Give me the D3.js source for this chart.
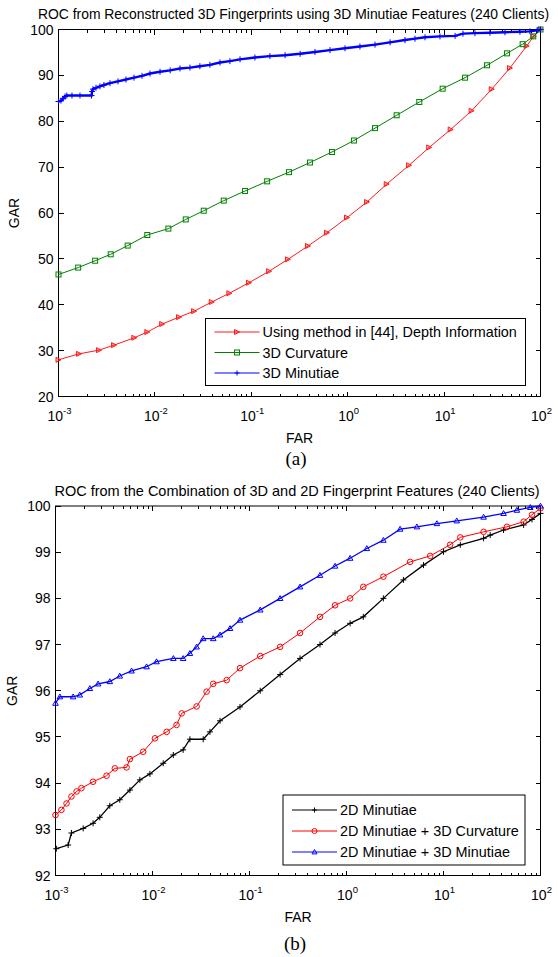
<!DOCTYPE html>
<html>
<head>
<meta charset="utf-8">
<script src="https://cdn.jsdelivr.net/npm/d3@7"></script>
<style>
  html, body { margin: 0; padding: 0; background: #fff; }
  svg { display: block; }
  text { font-family: "Liberation Sans", Arial, sans-serif; fill: #000; }
</style>
</head>
<body>
<svg id="fig" width="558" height="957"></svg>
<script>
// ---- Shared axis ticks ----
const farTicks = [1e-3, 1e-2, 1e-1, 1e0, 1e1, 1e2];
const farExponents = ["-3", "-2", "-1", "0", "1", "2"];
const garTicksA = [20, 30, 40, 50, 60, 70, 80, 90, 100];
const garTicksB = [92, 93, 94, 95, 96, 97, 98, 99, 100];

// ---- Panel (a): reconstructed 3D fingerprints, [FAR %, GAR %] ----
const depthMethod = [
  [0.001, 28.0], [0.00163, 29.3], [0.00263, 30.1], [0.00377, 31.2], [0.00611, 32.8],
  [0.00834, 34.05], [0.0119, 35.8], [0.0178, 37.3], [0.0255, 38.6], [0.0389, 40.6],
  [0.0592, 42.5], [0.0946, 44.8], [0.153, 47.3], [0.240, 49.9], [0.387, 52.8],
  [0.610, 55.7], [0.984, 59.0], [1.585, 62.4], [2.54, 66.3], [4.33, 70.4],
  [7.01, 74.3], [11.7, 78.2], [19.3, 82.3], [31.2, 87.0], [48.2, 91.6],
  [71.9, 96.4], [85.1, 98.5], [100, 100]
];
const curvature3D = [
  [0.001, 46.6], [0.0016, 48.1], [0.0024, 49.6], [0.00348, 51.0], [0.00522, 52.9],
  [0.00834, 55.2], [0.0138, 56.6], [0.0209, 58.6], [0.0321, 60.5], [0.0518, 62.7],
  [0.0861, 64.8], [0.146, 66.9], [0.246, 68.9], [0.406, 71.0], [0.687, 73.3],
  [1.16, 75.8], [1.92, 78.5], [3.22, 81.3], [5.53, 84.2], [9.66, 87.1],
  [16.5, 89.5], [27.9, 92.2], [44.9, 94.8], [65.3, 96.8], [84.1, 98.5], [100, 100]
];
const minutiae3D = [
  [0.001, 84.3], [0.00106, 84.5], [0.00111, 84.9], [0.00117, 85.4], [0.00122, 85.6],
  [0.00138, 85.6], [0.00167, 85.6], [0.0022, 85.6], [0.00223, 86.5], [0.00228, 87.0],
  [0.00245, 87.3], [0.00269, 87.6], [0.00296, 87.9], [0.00342, 88.3], [0.00414, 88.7],
  [0.00501, 89.1], [0.00607, 89.5], [0.00735, 89.9], [0.00889, 90.4], [0.0113, 90.8],
  [0.0144, 91.1], [0.0182, 91.5], [0.0231, 91.7], [0.0293, 92.0], [0.0372, 92.3],
  [0.0473, 92.8], [0.060, 93.1], [0.0764, 93.5], [0.109, 93.9], [0.156, 94.2],
  [0.224, 94.4], [0.321, 94.7], [0.458, 95.1], [0.656, 95.5], [0.938, 95.9],
  [1.34, 96.3], [1.92, 96.7], [2.75, 97.2], [3.93, 97.7], [4.99, 98.0],
  [6.34, 98.3], [9.06, 98.5], [13.0, 98.6], [15.7, 99.1], [20.9, 99.2],
  [29.9, 99.3], [42.8, 99.4], [61.2, 99.5], [77.6, 99.6], [92.0, 99.8], [100, 100]
];

// ---- Panel (b): 3D + 2D combination, [FAR %, GAR %] ----
const minutiae2D = [
  [0.00102, 92.58], [0.00135, 92.66], [0.00146, 92.92], [0.00193, 93.02], [0.00244, 93.13],
  [0.00286, 93.26], [0.00363, 93.51], [0.0046, 93.64], [0.00585, 93.85], [0.00741, 94.07],
  [0.0094, 94.2], [0.0129, 94.43], [0.0164, 94.61], [0.0207, 94.72], [0.0243, 94.95],
  [0.0333, 94.95], [0.0391, 95.11], [0.0497, 95.35], [0.0798, 95.65], [0.129, 96.0],
  [0.207, 96.35], [0.332, 96.7], [0.533, 97.0], [0.762, 97.25], [1.09, 97.46],
  [1.49, 97.60], [2.40, 98.0], [3.86, 98.4], [6.22, 98.72], [10.0, 99.01],
  [14.9, 99.16], [25.9, 99.30], [30.3, 99.37], [41.6, 99.48], [67.0, 99.59],
  [81.7, 99.71], [100, 99.84]
];
const minutiae2DCurv3D = [
  [0.001, 93.31], [0.00115, 93.42], [0.0013, 93.56], [0.00146, 93.71], [0.00165, 93.82],
  [0.00185, 93.89], [0.00244, 94.03], [0.00336, 94.16], [0.00409, 94.32], [0.00541, 94.34],
  [0.00585, 94.52], [0.00802, 94.68], [0.0106, 94.97], [0.014, 95.11], [0.0177, 95.26],
  [0.02, 95.51], [0.0285, 95.66], [0.0361, 95.98], [0.0423, 96.15], [0.0582, 96.23],
  [0.0798, 96.49], [0.129, 96.75], [0.207, 96.95], [0.332, 97.25], [0.533, 97.6],
  [0.762, 97.85], [1.09, 98.0], [1.49, 98.25], [2.40, 98.47], [4.53, 98.79],
  [7.29, 98.92], [11.7, 99.16], [14.9, 99.32], [25.9, 99.44], [45.1, 99.55],
  [67.0, 99.66], [81.7, 99.81], [100, 99.95]
];
const minutiae2DMin3D = [
  [0.001, 95.73], [0.00111, 95.87], [0.00152, 95.87], [0.00178, 95.91], [0.00226, 96.05],
  [0.00275, 96.15], [0.00363, 96.20], [0.0046, 96.32], [0.00608, 96.43], [0.00869, 96.52],
  [0.011, 96.63], [0.0164, 96.70], [0.0207, 96.70], [0.0243, 96.81], [0.0285, 96.95],
  [0.0333, 97.13], [0.0423, 97.13], [0.0497, 97.21], [0.063, 97.35], [0.0798, 97.53],
  [0.129, 97.75], [0.207, 98.0], [0.332, 98.25], [0.533, 98.5], [0.762, 98.7],
  [1.09, 98.87], [1.62, 99.08], [2.40, 99.26], [3.57, 99.50], [5.32, 99.55],
  [8.55, 99.62], [13.7, 99.68], [25.9, 99.76], [41.6, 99.84], [57.1, 99.91],
  [78.5, 99.97], [100, 100]
];

const svg = d3.select("#fig");

// Marker glyph painters
function drawMarker(sel, type, color, size) {
  const s = size || 2.5;
  if (type === "plus") {
    sel.append("path").attr("d", `M${-s},0H${s}M0,${-s}V${s}`)
      .attr("stroke", color).attr("stroke-width", 1).attr("fill", "none");
  } else if (type === "square") {
    sel.append("rect").attr("x", -s).attr("y", -s).attr("width", 2 * s).attr("height", 2 * s)
      .attr("stroke", color).attr("stroke-width", 1).attr("fill", "none");
  } else if (type === "tri-right") {
    sel.append("path").attr("d", `M${-s},${-s}L${s},0L${-s},${s}Z`)
      .attr("stroke", color).attr("stroke-width", 1).attr("fill", color).attr("fill-opacity", 0.35);
  } else if (type === "circle") {
    sel.append("circle").attr("r", s)
      .attr("stroke", color).attr("stroke-width", 1).attr("fill", "none");
  } else if (type === "tri-up") {
    sel.append("path").attr("d", `M0,${-s}L${s},${s * 0.75}L${-s},${s * 0.75}Z`)
      .attr("stroke", color).attr("stroke-width", 1).attr("fill", "none");
  }
}

function drawPanel(cfg) {
  const x = d3.scaleLog().domain([1e-3, 1e2]).range([cfg.left, cfg.right]);
  const y = d3.scaleLinear().domain(cfg.yDomain).range([cfg.bottom, cfg.top]);
  const g = svg.append("g");

  // title
  g.append("text").attr("x", cfg.titleX).attr("y", cfg.titleY)
    .attr("text-anchor", "middle").attr("font-size", cfg.titleSize).text(cfg.title);

  // axes box
  g.append("rect").attr("x", cfg.left).attr("y", cfg.top)
    .attr("width", cfg.right - cfg.left).attr("height", cfg.bottom - cfg.top)
    .attr("fill", "none").attr("stroke", "#000").attr("stroke-width", 1);

  // x ticks: majors at decades, minors at 2..9, inward on both edges
  const minor = [];
  for (let e = -3; e < 2; e++) for (let m = 2; m <= 9; m++) minor.push(m * Math.pow(10, e));
  const tickPath = [];
  farTicks.forEach(v => {
    const px = x(v);
    tickPath.push(`M${px},${cfg.bottom}v-5`, `M${px},${cfg.top}v5`);
  });
  minor.forEach(v => {
    const px = x(v);
    tickPath.push(`M${px},${cfg.bottom}v-3`, `M${px},${cfg.top}v3`);
  });
  cfg.yTicks.forEach(v => {
    const py = y(v);
    tickPath.push(`M${cfg.left},${py}h5`, `M${cfg.right},${py}h-5`);
  });
  g.append("path").attr("d", tickPath.join("")).attr("stroke", "#000")
    .attr("stroke-width", 1).attr("fill", "none").attr("shape-rendering", "crispEdges");

  // x tick labels "10^e"
  farTicks.forEach((v, i) => {
    const t = g.append("text").attr("x", x(v) + 1).attr("y", cfg.bottom + 24)
      .attr("text-anchor", "middle").attr("font-size", 14);
    t.append("tspan").text("10");
    t.append("tspan").attr("dy", -7).attr("font-size", 9.5).text(farExponents[i]);
  });

  // y tick labels
  cfg.yTicks.forEach(v => {
    g.append("text").attr("x", cfg.left - 5).attr("y", y(v) + 5)
      .attr("text-anchor", "end").attr("font-size", 14).text(v);
  });

  // axis labels
  g.append("text").attr("x", (cfg.left + cfg.right) / 2).attr("y", cfg.bottom + 46)
    .attr("text-anchor", "middle").attr("font-size", 14).text("FAR");
  g.append("text").attr("transform", `translate(${cfg.gar},${(cfg.top + cfg.bottom) / 2}) rotate(-90)`)
    .attr("text-anchor", "middle").attr("font-size", 14).text("GAR");

  // panel caption
  g.append("text").attr("x", cfg.captionX).attr("y", cfg.captionY)
    .attr("text-anchor", "middle").attr("font-size", 19)
    .style("font-family", "'Liberation Serif', 'DejaVu Serif', serif").text(cfg.caption);

  // curves
  const line = d3.line().x(d => x(d[0])).y(d => y(d[1]));
  const plot = g.append("g");
  cfg.series.forEach(s => {
    plot.append("path").datum(s.data).attr("d", line)
      .attr("fill", "none").attr("stroke", s.color).attr("stroke-width", s.width || 1);
    plot.append("g").selectAll("g").data(s.data).join("g")
      .attr("transform", d => `translate(${x(d[0])},${y(d[1])})`)
      .each(function () { drawMarker(d3.select(this), s.marker, s.color, s.size); });
  });

  // legend
  const L = cfg.legend;
  const lg = g.append("g");
  lg.append("rect").attr("x", L.x).attr("y", L.y).attr("width", L.w).attr("height", L.h)
    .attr("fill", "#fff").attr("stroke", "#000").attr("stroke-width", 1);
  cfg.series.forEach((s, i) => {
    const ry = L.y + L.row0 + i * L.rowStep;
    lg.append("line").attr("x1", L.x + 9).attr("x2", L.x + 54).attr("y1", ry).attr("y2", ry)
      .attr("stroke", s.color).attr("stroke-width", 1);
    const m = lg.append("g").attr("transform", `translate(${L.x + 31.5},${ry})`);
    drawMarker(m, s.marker, s.color, 2.5);
    lg.append("text").attr("x", L.x + 57).attr("y", ry + 5).attr("font-size", 14.4).text(s.name);
  });
}

drawPanel({
  left: 58.5, right: 540.5, top: 29.5, bottom: 396.5,
  yDomain: [20, 100], yTicks: garTicksA,
  title: "ROC from Reconstructed 3D Fingerprints using 3D Minutiae Features (240 Clients)",
  titleX: 293.5, titleY: 19, titleSize: 13.9,
  gar: 19, caption: "(a)", captionX: 296, captionY: 465,
  series: [
    { name: "Using method in [44], Depth Information", data: depthMethod, color: "#ff1a1a", marker: "tri-right" },
    { name: "3D Curvature", data: curvature3D, color: "#008000", marker: "square" },
    { name: "3D Minutiae", data: minutiae3D, color: "#0000ff", marker: "plus", width: 2.4, size: 3 }
  ],
  legend: { x: 205.5, y: 318.5, w: 320, h: 67, row0: 13.5, rowStep: 20.5 }
});

drawPanel({
  left: 55.5, right: 540.5, top: 506, bottom: 875.5,
  yDomain: [92, 100], yTicks: garTicksB,
  title: "ROC from the Combination of 3D and 2D Fingerprint Features (240 Clients)",
  titleX: 297, titleY: 496, titleSize: 14.5,
  gar: 17, caption: "(b)", captionX: 295, captionY: 950,
  series: [
    { name: "2D Minutiae", data: minutiae2D, color: "#000000", marker: "plus", width: 1.3, size: 3 },
    { name: "2D Minutiae + 3D Curvature", data: minutiae2DCurv3D, color: "#ff0000", marker: "circle", size: 2.8 },
    { name: "2D Minutiae + 3D Minutiae", data: minutiae2DMin3D, color: "#0000ff", marker: "tri-up", width: 1.3, size: 2.8 }
  ],
  legend: { x: 283, y: 795, w: 242, h: 70, row0: 15, rowStep: 21 }
});
</script>
</body>
</html>
